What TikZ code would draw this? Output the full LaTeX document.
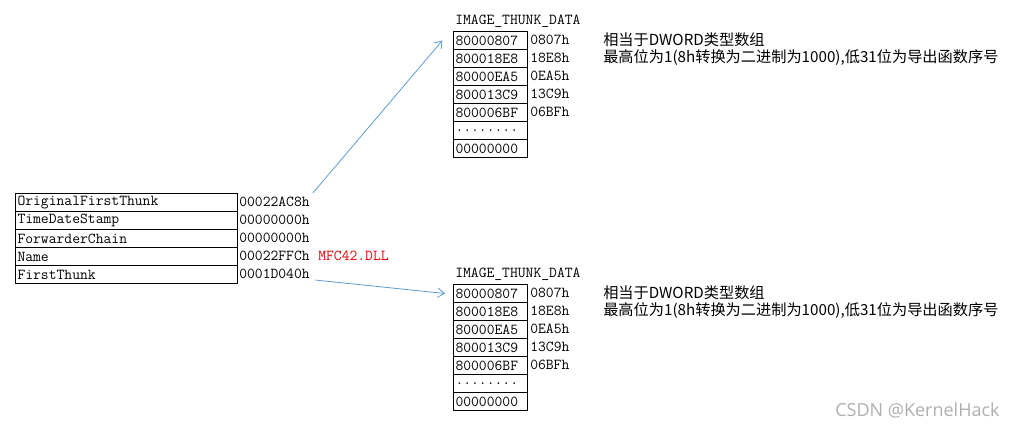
\documentclass[tikz,border=0pt]{standalone}
\usepackage{fontspec}
\newfontfamily\cjk{Noto Sans CJK SC}
\newfontfamily\wmark{Open Sans}
\usetikzlibrary{arrows.meta}
\definecolor{linkblue}{RGB}{91,155,213}
\definecolor{dllred}{RGB}{230,0,0}
\definecolor{wmgray}{RGB}{175,175,175}
\newcommand\thunkdots{........}

\begin{document}
\begin{tikzpicture}[x=0.75pt,y=-0.75pt,line cap=round,line join=round,
        font=\fontsize{11.4}{12}\selectfont\ttfamily,
        cell/.style={draw,line width=0.75pt,anchor=north west,inner xsep=1.5pt,inner ysep=0pt,
            minimum height=13.5pt,align=left},
        lbl/.style={anchor=west,inner sep=0pt},
        link/.style={linkblue,line width=0.6pt,-{Straight Barb[length=5pt,width=7pt]}}]
    \useasboundingbox (0,0) rectangle (1024,428);

    % IMAGE_IMPORT_DESCRIPTOR
    \foreach \i/\fld/\val in {1/OriginalFirstThunk/00022AC8h,2/TimeDateStamp/00000000h,
            3/ForwarderChain/00000000h,4/Name/00022FFCh,5/FirstThunk/0001D040h} {
        \node[cell,text width=163.5pt] (f\i) at (15,{193+18*(\i-1)}) {\fld};
        \node[lbl] (v\i) at (239,{202+18*(\i-1)}) {\val};
    }
    \node[lbl,text=dllred] (dll) at (318,256) {MFC42.DLL};

    % two IMAGE_THUNK_DATA arrays
    \foreach \t/\y in {up/31,dn/284} {
        \node[lbl] (\t-title) at (455,{\y-10}) {IMAGE\_THUNK\_DATA};
        \foreach \j/\rva/\hint in {1/80000807/0807h,2/800018E8/18E8h,3/80000EA5/0EA5h,
                4/800013C9/13C9h,5/800006BF/06BFh,6/\thunkdots/{},7/00000000/{}} {
            \node[cell,text width=52.5pt] (\t\j) at (453,{\y+18*(\j-1)}) {\rva};
            \node[lbl] (\t h\j) at (530,{\y+9+18*(\j-1)}) {\hint};
        }
        \node[lbl,font=\fontsize{11.4}{12}\selectfont\cjk] (\t-note1) at (603,{\y+9}) {相当于DWORD类型数组};
        \node[lbl,font=\fontsize{11.4}{12}\selectfont\cjk] (\t-note2) at (603,{\y+27}) {最高位为1(8h转换为二进制为1000),低31位为导出函数序号};
    }

    \draw[link] ([shift={(3,-4)}]v1.north east) -- ([xshift=-8pt]up1.west);
    \draw[link] ([shift={(6,1)}]v5.south east) -- ([xshift=-6pt]dn1.west);

    \node[lbl,font=\fontsize{13.5}{14}\selectfont\wmark,text=wmgray] (wm) at (835,410) {CSDN @KernelHack};
\end{tikzpicture}
\end{document}
